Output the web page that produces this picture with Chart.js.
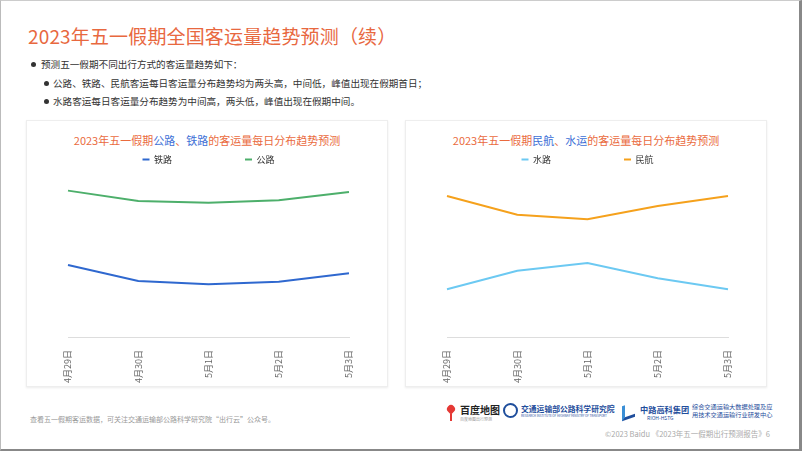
<!DOCTYPE html>
<html><head><meta charset="utf-8">
<script src="https://cdn.jsdelivr.net/npm/chart.js@4/dist/chart.umd.min.js"></script>
<style>
*{margin:0;padding:0;box-sizing:border-box}
body{width:802px;height:451px;background:#fff;font-family:"Noto Sans CJK SC","Noto Sans",sans-serif;overflow:hidden}
#frame{position:absolute;left:0;top:0;width:802px;height:451px;border-left:1px solid #bbb;border-top:1px solid #ccc;border-right:3px solid #888;border-bottom:2px solid #888}
#title{position:absolute;left:28px;top:22px;font-size:19px;color:#E8683F;white-space:nowrap;letter-spacing:0.15px}
.b{position:absolute;font-size:9.6px;color:#333;white-space:nowrap}
.dot{position:absolute;width:5px;height:5px;border-radius:50%;background:#333}
.panel{position:absolute;top:120px;width:362px;height:267px;border:1px solid #eee;box-shadow:0 1px 2px rgba(0,0,0,0.08);background:#fff}
.pt{position:absolute;left:0;width:100%;top:11px;text-align:center;font-size:11px;color:#EA6B3E;white-space:nowrap}
.pt span{color:#3D6FD6}
.cv{position:absolute;left:0;top:24px;width:362px;height:254px}
#foot{position:absolute;left:30px;top:414px;font-size:7px;color:#999;white-space:nowrap}
#copy{position:absolute;right:32px;top:428px;font-size:7.5px;color:#aaa;white-space:nowrap}
.logo{position:absolute;white-space:nowrap}
</style></head>
<body>
<div id="frame"></div>
<div id="title">2023年五一假期全国客运量趋势预测（续）</div>
<div class="dot" style="left:31px;top:62px"></div>
<div class="b" style="left:41px;top:57px">预测五一假期不同出行方式的客运量趋势如下：</div>
<div class="dot" style="left:44px;top:81px"></div>
<div class="b" style="left:53px;top:76px">公路、铁路、民航客运每日客运量分布趋势均为两头高，中间低，峰值出现在假期首日；</div>
<div class="dot" style="left:44px;top:99px"></div>
<div class="b" style="left:53px;top:94px">水路客运每日客运量分布趋势为中间高，两头低，峰值出现在假期中间。</div>

<div class="panel" style="left:26px">
  <div class="pt">2023年五一假期<span>公路</span>、<span>铁路</span>的客运量每日分布趋势预测</div>
  <div class="cv"><canvas id="c1"></canvas></div>
</div>
<div class="panel" style="left:405px">
  <div class="pt">2023年五一假期<span>民航</span>、<span>水运</span>的客运量每日分布趋势预测</div>
  <div class="cv"><canvas id="c2"></canvas></div>
</div>

<div id="foot">查看五一假期客运数据，可关注交通运输部公路科学研究院“出行云”公众号。</div>
<div class="logo" style="left:447px;top:405px;width:8px;height:8px;border-radius:50% 50% 50% 0;transform:rotate(-45deg);background:#E53935"></div>
<div class="logo" style="left:450px;top:414px;width:2px;height:7px;background:#E53935"></div>
<div class="logo" style="left:460px;top:402px;font-size:10px;font-weight:bold;color:#222">百度地图</div>
<div class="logo" style="left:460px;top:416px;font-size:4px;color:#999">百度地图出行预测</div>
<div class="logo" style="left:503px;top:403px;width:15px;height:15px;border-radius:50%;border:2px solid #1F4E9C"></div>
<div class="logo" style="left:521px;top:403px;font-size:7.8px;font-weight:bold;color:#1F4E9C">交通运输部公路科学研究院</div>
<div class="logo" style="left:521px;top:414px;font-size:3px;color:#1F4E9C">RESEARCH INSTITUTE OF HIGHWAY MINISTRY OF TRANSPORT</div>
<div class="logo" style="left:622px;top:404px;width:13px;height:15px;border-left:3px solid #3A8FD6;border-bottom:3px solid #1F4E9C;transform:skewY(-20deg)"></div>
<div class="logo" style="left:640px;top:403px;font-size:8.2px;font-weight:bold;color:#1F4E9C">中路高科集团</div>
<div class="logo" style="left:647px;top:414px;font-size:5px;color:#1F4E9C">RIOH-HSTG</div>
<div class="logo" style="left:692px;top:403px;font-size:6.2px;color:#1F4E9C;line-height:8px">综合交通运输大数据处理及应<br>用技术交通运输行业研发中心</div>
<div id="copy">©2023 Baidu 《2023年五一假期出行预测报告》6</div>

<script>
const dates = ['4月29日','4月30日','5月1日','5月2日','5月3日'];
const railway = [44.2, 34.4, 32.3, 33.9, 39.1];   // 铁路
const highway = [89.8, 83.4, 82.4, 83.9, 89.0];   // 公路
const waterway = [29.3, 40.7, 45.4, 36.0, 29.3];  // 水路
const aviation = [86.5, 75.0, 72.2, 80.4, 86.5];  // 民航

const FONT = '"Noto Sans CJK SC","Noto Sans",sans-serif';
function makeChart(id, sets){
  return new Chart(document.getElementById(id), {
    type:'line',
    data:{labels:dates, datasets:sets.map(s=>({
      label:s.label, data:s.data, borderColor:s.color, backgroundColor:s.color,
      borderWidth:2, pointRadius:0, tension:0, fill:false
    }))},
    options:{
      responsive:true, maintainAspectRatio:false, animation:false,
      layout:{padding:{left:41,right:40,top:0,bottom:11}},
      plugins:{
        tooltip:{enabled:false},
        legend:{position:'top',align:'center',
          labels:{boxWidth:7,boxHeight:2,padding:10,color:'#333',font:{family:FONT,size:9},
            generateLabels(chart){
              const items = Chart.defaults.plugins.legend.labels.generateLabels(chart);
              items.forEach((it,i)=>{ if(i<items.length-1) it.text = it.text + '\u3000\u3000\u3000\u3000\u3000\u3000\u3000'; it.lineWidth=0; });
              return items;
            }}}
      },
      scales:{
        x:{offset:false, grid:{display:false}, border:{display:true,color:'#ddd'},
          ticks:{minRotation:90,maxRotation:90,color:'#666',padding:5,font:{family:FONT,size:9}}},
        y:{display:false,min:0,max:100}
      }
    }
  });
}
makeChart('c1',[{label:'铁路',data:railway,color:'#2F68CF'},{label:'公路',data:highway,color:'#4DAF6B'}]);
makeChart('c2',[{label:'水路',data:waterway,color:'#6CC9F2'},{label:'民航',data:aviation,color:'#F5A11C'}]);
</script>
</body></html>
